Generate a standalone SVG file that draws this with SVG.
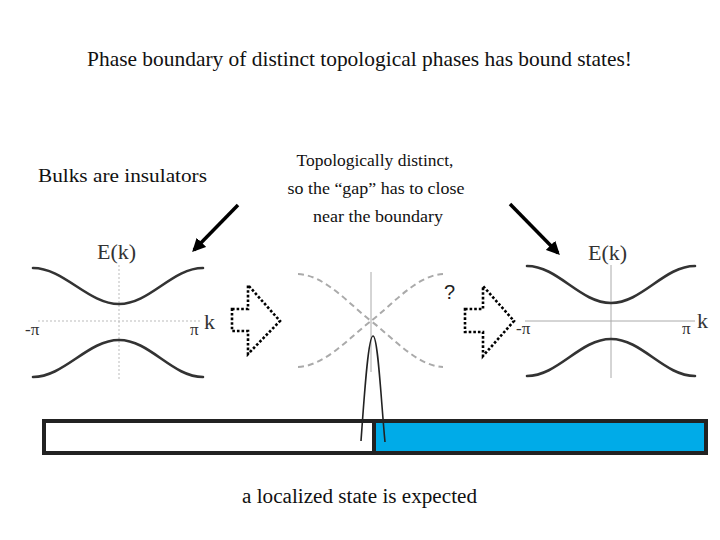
<svg xmlns="http://www.w3.org/2000/svg" width="720" height="540" viewBox="0 0 720 540">
<defs>
<style>
.t{font-family:"Liberation Serif","Times New Roman",serif;fill:#111}
.ax{font-family:"Liberation Serif","Times New Roman",serif;fill:#333}
.band{fill:none;stroke:#333;stroke-width:2.6;stroke-linecap:round}
.dash{fill:none;stroke:#aaa;stroke-width:2;stroke-dasharray:6 4}
.dotax{fill:none;stroke:#bbb;stroke-width:1;stroke-dasharray:2 2}
.solax{fill:none;stroke:#aaa;stroke-width:1}
.blk{fill:#fff;stroke:#000;stroke-width:2.6;stroke-dasharray:2.6 2}
.ptr{stroke:#000;stroke-width:3.5;fill:none}
</style>
<marker id="ah" viewBox="0 0 10 10" refX="8" refY="5" markerWidth="3.8" markerHeight="3.8" orient="auto">
<path d="M0,0 L10,5 L0,10 z" fill="#000"/>
</marker>
</defs>
<rect width="720" height="540" fill="#fff"/>

<g id="title"><text class="t" x="87" y="66" font-size="21" textLength="545" lengthAdjust="spacingAndGlyphs">Phase boundary of distinct topological phases has bound states!</text></g>

<g id="bulks-label"><text class="t" x="38" y="182" font-size="19.5" textLength="169" lengthAdjust="spacingAndGlyphs">Bulks are insulators</text></g>

<g id="distinct-label">
<text class="t" x="375" y="166" font-size="16.5" text-anchor="middle" textLength="157" lengthAdjust="spacingAndGlyphs">Topologically distinct,</text>
<text class="t" x="376" y="194" font-size="16.5" text-anchor="middle" textLength="177" lengthAdjust="spacingAndGlyphs">so the “gap” has to close</text>
<text class="t" x="378" y="222" font-size="16.5" text-anchor="middle" textLength="130" lengthAdjust="spacingAndGlyphs">near the boundary</text>
</g>

<g id="left-plot">
<line class="dotax" x1="119" y1="265" x2="119" y2="380"/>
<line class="dotax" x1="38" y1="321" x2="202" y2="321"/>
<path class="band" d="M33,268 C64,268 88,304 119,304 C150,304 172,268 203,268"/>
<path class="band" d="M33,377 C64,377 88,340 119,340 C150,340 172,377 203,377"/>
<text class="ax" x="97" y="259" font-size="22">E(k)</text>
<text class="ax" x="25" y="335" font-size="17">-π</text>
<text class="ax" x="190" y="335" font-size="17">π</text>
<text class="ax" x="204" y="329" font-size="22">k</text>
</g>

<g id="middle-plot">
<line class="solax" x1="371" y1="272" x2="371" y2="372"/>
<path class="dash" d="M298,274 C325,275 350,305 371,321 C392,305 417,275 443,274"/>
<path class="dash" d="M298,367 C325,366 350,337 371,321 C392,337 417,366 443,367"/>
<text x="444" y="299" font-size="20" font-family="'Liberation Sans',Arial,sans-serif" fill="#222">?</text>
</g>

<g id="right-plot">
<line class="solax" x1="611" y1="265" x2="611" y2="378"/>
<line class="solax" x1="525" y1="321" x2="695" y2="321"/>
<path class="band" d="M527,266 C558,266 580,303 611,303 C642,303 664,266 695,266"/>
<path class="band" d="M527,376 C558,376 580,339 611,339 C642,339 664,376 695,376"/>
<text class="ax" x="588" y="260" font-size="22">E(k)</text>
<text class="ax" x="516" y="334" font-size="17">-π</text>
<text class="ax" x="682" y="334" font-size="17">π</text>
<text class="ax" x="697" y="328" font-size="22">k</text>
</g>

<g id="block-arrow-left"><polygon class="blk" points="232,309 248,309 248,285 280,321 248,354 248,331 232,331"/></g>
<g id="block-arrow-right"><polygon class="blk" points="465,309 483,309 483,286 514,321 483,356 483,332 465,332"/></g>

<g id="bar">
<rect x="44" y="421" width="330" height="32" fill="#fff" stroke="#222" stroke-width="4"/>
<rect x="374" y="421" width="332" height="32" fill="#00ABE8" stroke="#222" stroke-width="4"/>
</g>

<g id="bound-state"><path d="M361,441 C364,400 368,336 373,336 C378,336 381,400 385,442" fill="none" stroke="#222" stroke-width="1.6"/></g>

<g id="connectors">
<line class="ptr" x1="238" y1="205" x2="194" y2="250" marker-end="url(#ah)"/>
<line class="ptr" x1="510" y1="204" x2="558" y2="253" marker-end="url(#ah)"/>
</g>

<g id="bottom-label"><text class="t" x="242" y="503" font-size="20.5" textLength="235" lengthAdjust="spacingAndGlyphs">a localized state is expected</text></g>
</svg>
